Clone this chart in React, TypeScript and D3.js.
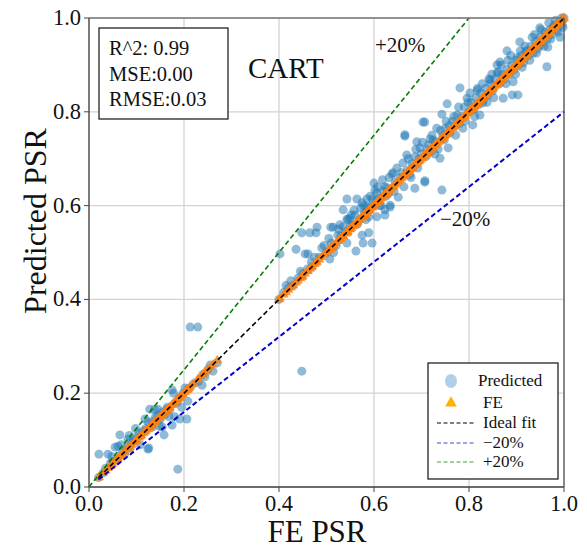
import React from 'react';
import * as d3 from 'd3';

// FE value (x) and model prediction (y) for each sample
const feValues: number[] = [
  0.02, 0.021, 0.03, 0.035, 0.04, 0.045, 0.05, 0.055, 0.06, 0.061, 0.065, 0.07, 0.075, 0.08, 0.082, 0.086,
  0.09, 0.095, 0.1, 0.105, 0.11, 0.115, 0.12, 0.124, 0.126, 0.124, 0.128, 0.13, 0.133, 0.135, 0.14, 0.145,
  0.145, 0.15, 0.154, 0.155, 0.158, 0.16, 0.164, 0.165, 0.17, 0.175, 0.175, 0.18, 0.185, 0.187, 0.19, 0.191,
  0.195, 0.202, 0.206, 0.208, 0.213, 0.229, 0.22, 0.23, 0.238, 0.244, 0.25, 0.261, 0.27, 0.448,
  0.048, 0.068, 0.085, 0.098, 0.108, 0.118, 0.138, 0.148, 0.168, 0.178, 0.198, 0.21, 0.24, 0.255,
  0.40, 0.402, 0.42, 0.43, 0.436, 0.44, 0.448, 0.455, 0.46, 0.461, 0.465, 0.47, 0.478, 0.48, 0.485, 0.49,
  0.5, 0.507, 0.509, 0.51, 0.514, 0.52, 0.524, 0.528, 0.53, 0.535, 0.54, 0.543, 0.543, 0.543, 0.549, 0.55,
  0.555, 0.56, 0.562, 0.564, 0.57, 0.575, 0.575, 0.577, 0.58, 0.585, 0.585, 0.589, 0.589, 0.59, 0.596, 0.596,
  0.6, 0.602, 0.605, 0.606, 0.606, 0.61, 0.615, 0.62, 0.623, 0.623, 0.623, 0.627, 0.63, 0.634, 0.634, 0.638,
  0.64, 0.645, 0.651, 0.655, 0.661, 0.665, 0.665, 0.669, 0.67, 0.675, 0.68, 0.682, 0.686, 0.686, 0.69, 0.695,
  0.697, 0.7, 0.703, 0.707, 0.707, 0.707, 0.71, 0.715, 0.718, 0.72, 0.725, 0.73, 0.735, 0.739, 0.74, 0.743,
  0.743, 0.745, 0.75, 0.754, 0.756, 0.76, 0.765, 0.77, 0.775, 0.78, 0.781, 0.785, 0.787, 0.79, 0.796, 0.8,
  0.805, 0.808, 0.81, 0.815, 0.817, 0.82, 0.823, 0.825, 0.829, 0.83, 0.835, 0.84, 0.844, 0.845, 0.85, 0.855,
  0.859, 0.859, 0.865, 0.865, 0.87, 0.872, 0.875, 0.88, 0.88, 0.885, 0.89, 0.891, 0.893, 0.895, 0.9, 0.901,
  0.903, 0.905, 0.907, 0.91, 0.915, 0.92, 0.922, 0.925, 0.93, 0.933, 0.935, 0.94, 0.945, 0.949, 0.949, 0.95,
  0.955, 0.96, 0.964, 0.965, 0.966, 0.97, 0.975, 0.977, 0.98, 0.985, 0.99, 0.992, 0.996, 1.0, 0.995,
  0.41, 0.415, 0.425, 0.445, 0.45, 0.468, 0.475, 0.495, 0.505, 0.515, 0.525, 0.535, 0.545, 0.552, 0.558, 0.565,
  0.572, 0.578, 0.583, 0.592, 0.598, 0.608, 0.612, 0.618, 0.625, 0.632, 0.642, 0.648, 0.658, 0.663, 0.672, 0.678,
  0.688, 0.692, 0.702, 0.712, 0.722, 0.728, 0.732, 0.748, 0.752, 0.758, 0.768, 0.772, 0.778, 0.792, 0.798, 0.802,
  0.812, 0.818, 0.828, 0.838, 0.842, 0.848, 0.852, 0.862, 0.868, 0.878, 0.882, 0.888, 0.898, 0.908, 0.912, 0.918,
  0.928, 0.938, 0.942, 0.952, 0.958, 0.968, 0.972, 0.982, 0.988, 0.998,
];

const predictedValues: number[] = [
  0.02, 0.07, 0.03, 0.04, 0.07, 0.05, 0.055, 0.085, 0.06, 0.087, 0.111, 0.075, 0.07, 0.085, 0.102, 0.083,
  0.095, 0.1, 0.105, 0.115, 0.11, 0.12, 0.125, 0.081, 0.083, 0.139, 0.166, 0.13, 0.128, 0.14, 0.15, 0.166,
  0.153, 0.145, 0.128, 0.16, 0.111, 0.155, 0.166, 0.17, 0.165, 0.132, 0.207, 0.15, 0.18, 0.038, 0.19, 0.145,
  0.17, 0.211, 0.145, 0.183, 0.341, 0.341, 0.22, 0.225, 0.217, 0.235, 0.25, 0.247, 0.265, 0.247,
  0.065, 0.09, 0.11, 0.125, 0.09, 0.145, 0.165, 0.13, 0.15, 0.2, 0.2, 0.21, 0.24, 0.26,
  0.40, 0.497, 0.425, 0.43, 0.507, 0.445, 0.542, 0.497, 0.465, 0.497, 0.542, 0.47, 0.542, 0.554, 0.49, 0.51,
  0.5, 0.486, 0.554, 0.52, 0.554, 0.515, 0.537, 0.559, 0.535, 0.591, 0.545, 0.52, 0.571, 0.614, 0.573, 0.555,
  0.56, 0.58, 0.503, 0.614, 0.57, 0.537, 0.606, 0.52, 0.585, 0.614, 0.597, 0.542, 0.576, 0.595, 0.52, 0.614,
  0.648, 0.633, 0.61, 0.576, 0.627, 0.615, 0.6, 0.63, 0.64, 0.591, 0.58, 0.638, 0.625, 0.601, 0.597, 0.667,
  0.67, 0.65, 0.618, 0.66, 0.691, 0.751, 0.748, 0.708, 0.675, 0.665, 0.69, 0.682, 0.704, 0.637, 0.736, 0.7,
  0.723, 0.71, 0.778, 0.778, 0.65, 0.653, 0.705, 0.73, 0.742, 0.715, 0.74, 0.735, 0.72, 0.701, 0.76, 0.795,
  0.633, 0.75, 0.765, 0.817, 0.723, 0.755, 0.78, 0.77, 0.793, 0.775, 0.851, 0.79, 0.765, 0.81, 0.829, 0.8,
  0.82, 0.772, 0.805, 0.83, 0.846, 0.815, 0.793, 0.84, 0.819, 0.825, 0.85, 0.835, 0.868, 0.86, 0.845, 0.87,
  0.883, 0.9, 0.906, 0.86, 0.88, 0.829, 0.87, 0.93, 0.89, 0.88, 0.9, 0.836, 0.864, 0.89, 0.91, 0.915,
  0.836, 0.9, 0.949, 0.92, 0.905, 0.93, 0.928, 0.92, 0.94, 0.959, 0.925, 0.95, 0.935, 0.942, 0.979, 0.96,
  0.95, 0.97, 0.896, 0.955, 0.938, 0.975, 0.965, 0.981, 0.985, 0.975, 0.99, 0.959, 0.985, 1.0, 1.0,
  0.415, 0.43, 0.44, 0.46, 0.455, 0.48, 0.49, 0.515, 0.53, 0.5, 0.55, 0.555, 0.57, 0.58, 0.59, 0.56,
  0.595, 0.6, 0.57, 0.62, 0.6, 0.64, 0.6, 0.655, 0.62, 0.66, 0.63, 0.68, 0.67, 0.64, 0.7, 0.66,
  0.72, 0.68, 0.735, 0.72, 0.75, 0.71, 0.765, 0.74, 0.78, 0.77, 0.79, 0.75, 0.81, 0.78, 0.82, 0.84,
  0.79, 0.85, 0.86, 0.82, 0.87, 0.88, 0.83, 0.885, 0.9, 0.86, 0.91, 0.92, 0.88, 0.93, 0.895, 0.94,
  0.91, 0.965, 0.925, 0.975, 0.94, 0.99, 0.955, 0.995, 0.97, 0.98,
];

const tickValues: number[] = [0, 0.2, 0.4, 0.6, 0.8, 1.0];
const statLines: string[] = ['R^2: 0.99', 'MSE:0.00', 'RMSE:0.03'];
const legendLabels: string[] = ['Predicted', 'FE', 'Ideal fit', '\u221220%', '+20%'];

const W = 587;
const H = 550;
const FONT = '"Liberation Serif", "Times New Roman", serif';

export default function App() {
  const x = d3.scaleLinear().domain([0, 1]).range([89, 564]);
  const y = d3.scaleLinear().domain([0, 1]).range([487, 18]);

  const points = feValues.map((fe, i) => ({ fe, pred: predictedValues[i] }));
  const tri = d3.symbol(d3.symbolTriangle, 42)() as string;
  const legendTri = d3.symbol(d3.symbolTriangle, 60)() as string;

  const line = d3.line<[number, number]>()
    .x(d => x(d[0]))
    .y(d => y(d[1]));

  // reference lines: ideal, -20%, +20%
  const ideal: [number, number][] = [[0.02, 0.02], [1, 1]];
  const minus: [number, number][] = [[0.02, 0.016], [1, 0.8]];
  const plus: [number, number][] = [[0, 0], [0.8, 1]];

  const legendY = [381, 403, 423, 443, 462];

  return (
    <svg width={W} height={H} style={{ position: 'absolute', left: 0, top: 0, background: '#fff' }}
      fontFamily={FONT}>
      {/* grid */}
      {tickValues.map(t => (
        <g key={'g' + t}>
          <line x1={x(t)} x2={x(t)} y1={y(0)} y2={y(1)} stroke="#d3d3d3" strokeWidth={1.3} />
          <line x1={x(0)} x2={x(1)} y1={y(t)} y2={y(t)} stroke="#d3d3d3" strokeWidth={1.3} />
        </g>
      ))}

      {/* predicted scatter */}
      {points.map((p, i) => (
        <circle key={'p' + i} cx={x(p.fe)} cy={y(p.pred)} r={4.5} fill="#1f77b4" fillOpacity={0.5} />
      ))}

      {/* FE triangles on the diagonal */}
      {points.filter(p => p.fe <= 0.27 || p.fe >= 0.4).map((p, i) => (
        <path key={'f' + i} d={tri} transform={`translate(${x(p.fe)},${y(p.fe)})`}
          fill="#ff7f0e" fillOpacity={0.8} />
      ))}

      {/* reference lines */}
      <path d={line(plus) as string} stroke="#008000" strokeWidth={1.6} strokeDasharray="5,3" fill="none" />
      <path d={line(minus) as string} stroke="#0000cc" strokeWidth={2} strokeDasharray="5,3" fill="none" />
      <path d={line(ideal) as string} stroke="#000" strokeWidth={1.6} strokeDasharray="5,3" fill="none" />

      {/* spines */}
      <line x1={x(0)} x2={x(1)} y1={y(1)} y2={y(1)} stroke="#777" strokeWidth={1.3} />
      <line x1={x(1)} x2={x(1)} y1={y(0)} y2={y(1)} stroke="#555" strokeWidth={1.3} />
      <line x1={x(0)} x2={x(0)} y1={y(0)} y2={y(1)} stroke="#444" strokeWidth={1.3} />
      <line x1={x(0)} x2={x(1)} y1={y(0)} y2={y(0)} stroke="#444" strokeWidth={1.3} />

      {/* ticks */}
      {tickValues.map(t => (
        <g key={'t' + t} fontSize={22.5} fill="#111">
          <line x1={x(0) - 5} x2={x(0)} y1={y(t)} y2={y(t)} stroke="#444" />
          <text x={x(0) - 8} y={y(t) + 7} textAnchor="end">{t.toFixed(1)}</text>
          <line x1={x(t)} x2={x(t)} y1={y(0)} y2={y(0) + 5} stroke="#444" />
          <text x={x(t)} y={y(0) + 24} textAnchor="middle">{t.toFixed(1)}</text>
        </g>
      ))}

      {/* axis titles */}
      <text x={317} y={542} textAnchor="middle" fontSize={31} fill="#111">FE PSR</text>
      <text transform="translate(46,221) rotate(-90)" textAnchor="middle" fontSize={32} fill="#111">Predicted PSR</text>

      {/* annotations */}
      <text x={248} y={78} fontSize={29} fill="#111">CART</text>
      <text x={375} y={52} fontSize={21} fill="#111">+20%</text>
      <text x={440} y={226} fontSize={21} fill="#111">{'\u221220%'}</text>

      {/* stats box */}
      <rect x={99} y={28} width={129} height={91} fill="#fff" stroke="#111" strokeWidth={1.2} />
      {statLines.map((s, i) => (
        <text key={s} x={109} y={55 + i * 25.5} fontSize={20.5} fill="#111">{s}</text>
      ))}

      {/* legend */}
      <rect x={428} y={363} width={130} height={116} fill="#fff" stroke="#111" strokeWidth={1.2} />
      <ellipse cx={451} cy={legendY[0]} rx={6} ry={7} fill="#1f77b4" fillOpacity={0.35} />
      <path d={legendTri} transform={`translate(451,${legendY[1]})`} fill="#ffb000" />
      {['#000', '#3050c0', '#40a040'].map((c, i) => (
        <line key={c} x1={437} x2={476} y1={legendY[i + 2]} y2={legendY[i + 2]}
          stroke={c} strokeWidth={1.2} strokeDasharray="4,2.5" />
      ))}
      {legendLabels.map((l, i) => (
        <text key={l} x={i === 0 ? 478 : 483} y={legendY[i] + 5} fontSize={17} fill="#111">{l}</text>
      ))}
    </svg>
  );
}
